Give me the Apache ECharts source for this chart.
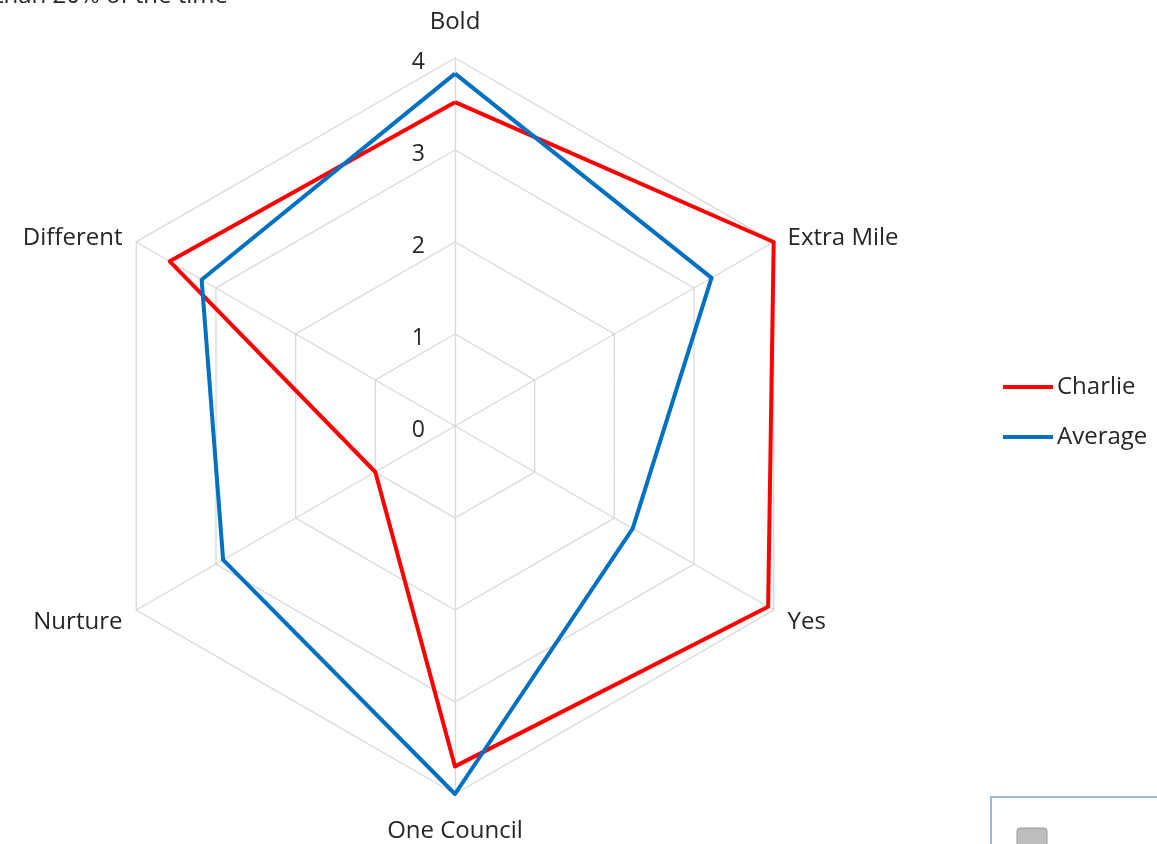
<!DOCTYPE html>
<html>
<head>
<meta charset="utf-8">
<script src="https://cdn.jsdelivr.net/npm/echarts@6/dist/echarts.min.js"></script>
<style>
html,body{margin:0;padding:0;background:#fff;}
#chart{width:1157px;height:844px;}
</style>
</head>
<body>
<div id="chart"></div>
<script>
// Categories in clockwise order (as in the reference)
const categories = ['Bold', 'Extra Mile', 'Yes', 'One Council', 'Nurture', 'Different'];
const charlie = [3.52, 4.0, 3.93, 3.7, 1.0, 3.58];
const average = [3.83, 3.22, 2.23, 4.0, 2.91, 3.18];
const seriesNames = ['Charlie', 'Average'];
const axisMax = 4;
const tickLabels = ['0', '1', '2', '3', '4'];

// ECharts radar goes counter-clockwise; reorder so the drawing is clockwise
const order = [0, 5, 4, 3, 2, 1];
const reorder = arr => order.map(i => arr[i]);

const FONT = 'Open Sans';
const TXT = '#262626';
const FS = 24;

const chart = echarts.init(document.getElementById('chart'));
chart.setOption({
  animation: false,
  backgroundColor: '#ffffff',
  textStyle: { fontFamily: FONT },
  legend: {
    orient: 'vertical',
    left: 1003,
    top: 375,
    padding: 0,
    itemWidth: 50,
    itemHeight: 4,
    itemGap: 26,
    icon: 'rect',
    textStyle: { fontSize: FS, color: TXT, fontFamily: FONT, padding: [0, 0, 0, -1] },
    data: seriesNames
  },
  radar: {
    center: [455, 426],
    radius: 368,
    startAngle: 90,
    shape: 'polygon',
    splitNumber: 4,
    indicator: reorder(categories).map((name, i) => {
      const ind = { name: name, min: 0, max: axisMax };
      if (i !== 0) ind.axisLabel = { show: false };
      return ind;
    }),
    axisName: {
      color: TXT, fontSize: FS, fontFamily: FONT,
      formatter: (name) => name === categories[0] ? '{t|' + name + '}'
        : name === categories[3] ? '{b|' + name + '}' : '{s|' + name + '}',
      rich: {
        t: { fontSize: FS, fontFamily: FONT, color: TXT, padding: [0, 0, 8, 0] },
        b: { fontSize: FS, fontFamily: FONT, color: TXT, padding: [9, 0, 0, 0] },
        s: { fontSize: FS, fontFamily: FONT, color: TXT, padding: [8, 0, 0, 0] }
      }
    },
    nameGap: 16,
    splitLine: { lineStyle: { color: '#d9d9d9', width: 1.3 } },
    splitArea: { show: false },
    axisLine: { lineStyle: { color: '#d9d9d9', width: 1.3 } },
    axisTick: { show: false },
    axisLabel: {
      show: true, color: TXT, fontSize: FS - 1, fontFamily: FONT, margin: 30,
      formatter: v => {
        const t = tickLabels[Math.round(v)];
        return t !== undefined ? '{v|' + t + '}' : '';
      },
      rich: {
        v: { fontSize: FS - 1, fontFamily: FONT, color: TXT, padding: [8, 0, 0, 0] }
      }
    }
  },
  series: [{
    type: 'radar',
    symbol: 'none',
    data: [
      { name: seriesNames[0], value: reorder(charlie),
        lineStyle: { color: '#ff0000', width: 4 }, itemStyle: { color: '#ff0000' } },
      { name: seriesNames[1], value: reorder(average),
        lineStyle: { color: '#0070c0', width: 4 }, itemStyle: { color: '#0070c0' } }
    ]
  }],
  graphic: [
    { type: 'text', right: 929, top: -16,
      style: { text: 'than 20% of the time', fontSize: 24, fontFamily: FONT, fill: '#262626' } },
    { type: 'rect', shape: { x: 991, y: 797, width: 200, height: 80 },
      style: { fill: '#ffffff', stroke: '#9fb8d4', lineWidth: 2 } },
    { type: 'rect', shape: { x: 1017, y: 828, width: 30, height: 20, r: 3 },
      style: { fill: '#bdbdbd', stroke: '#9a9a9a', lineWidth: 1 } }
  ]
});
</script>
</body>
</html>
